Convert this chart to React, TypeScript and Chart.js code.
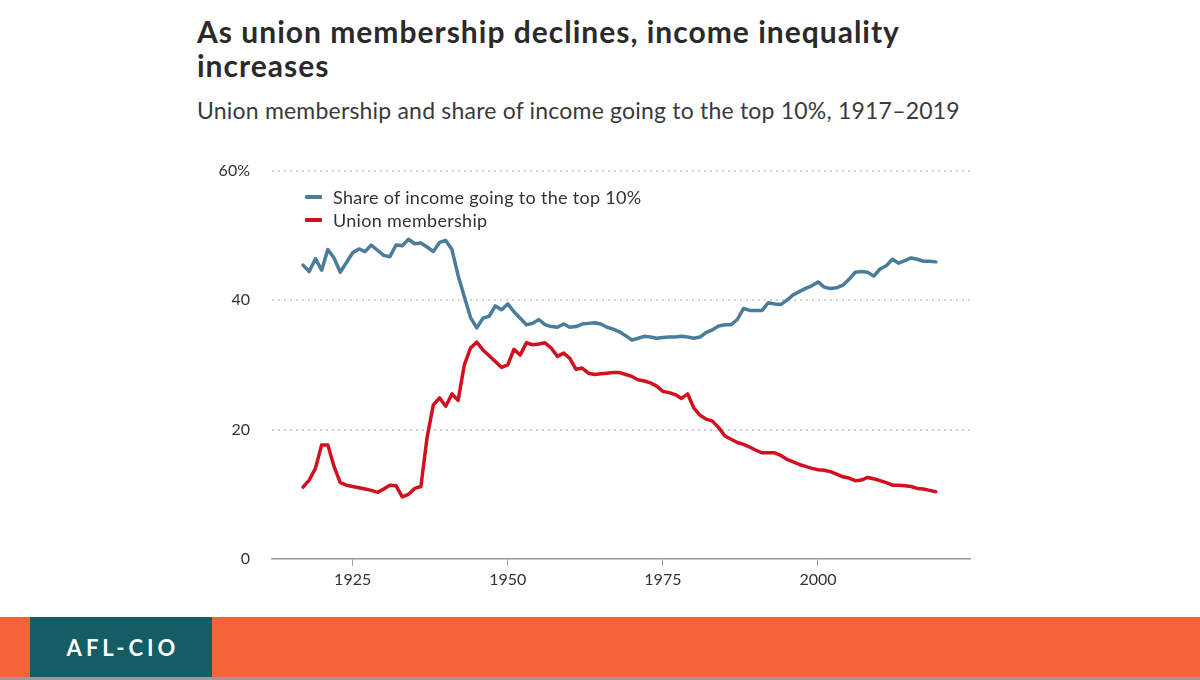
import { useEffect, useRef } from "react";
import { Chart, registerables } from "chart.js";

Chart.register(...registerables);

const FIRST_YEAR = 1917;

const incomeShareTop10 = [
  45.4, 44.4, 46.4, 44.6, 47.8, 46.5, 44.3, 45.8, 47.3, 47.9,
  47.5, 48.5, 47.7, 46.9, 46.7, 48.5, 48.4, 49.4, 48.7, 48.8,
  48.2, 47.5, 48.9, 49.2, 47.8, 43.8, 40.5, 37.3, 35.7, 37.2,
  37.5, 39.1, 38.5, 39.4, 38.2, 37.2, 36.2, 36.4, 37.0, 36.2,
  35.9, 35.8, 36.3, 35.8, 35.9, 36.3, 36.4, 36.5, 36.3, 35.8,
  35.5, 35.1, 34.5, 33.8, 34.1, 34.4, 34.3, 34.1, 34.2, 34.3,
  34.3, 34.4, 34.3, 34.1, 34.3, 35.0, 35.4, 36.0, 36.2, 36.2,
  37.0, 38.7, 38.4, 38.4, 38.4, 39.6, 39.4, 39.3, 40.0, 40.8,
  41.3, 41.8, 42.2, 42.8, 42.0, 41.8, 41.9, 42.3, 43.2, 44.3,
  44.4, 44.3, 43.7, 44.8, 45.3, 46.3, 45.7, 46.1, 46.5, 46.3,
  46.0, 46.0, 45.9,
];

const unionMembership = [
  11.1, 12.2, 14.0, 17.6, 17.6, 14.3, 11.8, 11.4, 11.2, 11.0,
  10.8, 10.6, 10.3, 10.8, 11.4, 11.3, 9.6, 10.0, 10.9, 11.2,
  18.8, 23.8, 24.9, 23.6, 25.5, 24.5, 30.0, 32.6, 33.5, 32.3,
  31.4, 30.5, 29.6, 30.0, 32.4, 31.5, 33.4, 33.1, 33.2, 33.4,
  32.6, 31.3, 31.8, 31.0, 29.3, 29.5, 28.7, 28.5, 28.6, 28.7,
  28.8, 28.8, 28.5, 28.2, 27.7, 27.5, 27.2, 26.7, 25.9, 25.7,
  25.4, 24.8, 25.5, 23.3, 22.2, 21.6, 21.3, 20.3, 19.0, 18.5,
  18.0, 17.7, 17.3, 16.8, 16.4, 16.4, 16.4, 16.0, 15.4, 15.0,
  14.6, 14.3, 14.0, 13.8, 13.7, 13.5, 13.1, 12.7, 12.5, 12.1,
  12.2, 12.6, 12.4, 12.1, 11.8, 11.4, 11.4, 11.3, 11.2, 10.9,
  10.8, 10.6, 10.4,
];

const years = incomeShareTop10.map((_, i) => FIRST_YEAR + i);

const xTicks = [1925, 1950, 1975, 2000];
const yTicks = [0, 20, 40, 60];

const seriesLabels = ["Share of income going to the top 10%", "Union membership"];
const seriesColors = ["#4a7d99", "#d2111f"];

const FONT = "Lato, 'Open Sans', sans-serif";

export default function App() {
  const canvasRef = useRef<HTMLCanvasElement | null>(null);

  useEffect(() => {
    document.body.style.margin = "0";
    const canvas = canvasRef.current;
    if (!canvas) return;
    const chart = new Chart(canvas, {
      type: "line",
      data: {
        datasets: [
          {
            label: seriesLabels[0],
            data: years.map((y, i) => ({ x: y, y: incomeShareTop10[i] })),
            borderColor: seriesColors[0],
            borderWidth: 3.5,
            pointRadius: 0,
            tension: 0,
            borderJoinStyle: "round",
            borderCapStyle: "round",
          },
          {
            label: seriesLabels[1],
            data: years.map((y, i) => ({ x: y, y: unionMembership[i] })),
            borderColor: seriesColors[1],
            borderWidth: 3.5,
            pointRadius: 0,
            tension: 0,
            borderJoinStyle: "round",
            borderCapStyle: "round",
          },
        ],
      },
      options: {
        animation: false,
        responsive: false,
        layout: { padding: { top: 10, right: 20, left: 0, bottom: 0 } },
        plugins: {
          legend: { display: false },
          tooltip: { enabled: false },
        },
        scales: {
          x: {
            type: "linear",
            min: 1912,
            max: 2024.5,
            afterBuildTicks: (scale: any) => {
              scale.ticks = xTicks.map((v) => ({ value: v }));
            },
            afterFit: (scale: any) => {
              scale.height = 41;
            },
            ticks: {
              autoSkip: false,
              maxRotation: 0,
              padding: 4,
              color: "#333",
              font: { family: FONT, size: 16 },
              callback: (v: any) => String(v),
            },
            grid: {
              drawOnChartArea: false,
              drawTicks: true,
              tickLength: 7,
              color: "#a0a0a0",
              lineWidth: 1,
            },
            border: { display: true, color: "#9a9a9a", width: 1.5 },
          },
          y: {
            type: "linear",
            min: 0,
            max: 60,
            afterBuildTicks: (scale: any) => {
              scale.ticks = yTicks.map((v) => ({ value: v }));
            },
            afterFit: (scale: any) => {
              scale.width = 72;
            },
            ticks: {
              padding: 22,
              color: "#333",
              font: { family: FONT, size: 16 },
              callback: (v: any) => (v === 60 ? "60%" : String(v)),
            },
            grid: {
              drawTicks: false,
              color: (ctx: any) => (ctx.tick && ctx.tick.value === 0 ? "rgba(0,0,0,0)" : "#d2d2d2"),
              lineWidth: 2,
            },
            border: { display: false, dash: [2, 4] },
          },
        },
      },
    });
    return () => chart.destroy();
  }, []);

  return (
    <div
      style={{
        position: "absolute",
        left: 0,
        top: 0,
        width: 1200,
        height: 680,
        background: "#fff",
        overflow: "hidden",
        fontFamily: FONT,
      }}
    >
      <div
        style={{
          position: "absolute",
          left: 197,
          top: 14,
          fontSize: 30,
          fontWeight: 700,
          lineHeight: "34px",
          letterSpacing: 1,
          color: "#2a2a2a",
          width: 900,
          whiteSpace: "nowrap",
        }}
      >
        As union membership declines, income inequality
        <br />
        increases
      </div>
      <div
        style={{
          position: "absolute",
          left: 197,
          top: 97,
          fontSize: 23,
          lineHeight: "27.6px",
          letterSpacing: 0.2,
          color: "#3a3a3a",
          whiteSpace: "nowrap",
        }}
      >
        Union membership and share of income going to the top 10%, 1917–2019
      </div>
      <canvas
        ref={canvasRef}
        width={790}
        height={461}
        style={{ position: "absolute", left: 200, top: 139, width: 790, height: 461, display: "block" }}
      />
      {seriesLabels.map((label, i) => (
        <div
          key={label}
          style={{
            position: "absolute",
            left: 305,
            top: 186 + i * 23,
            height: 22,
            display: "flex",
            alignItems: "center",
            fontSize: 18,
            letterSpacing: 0.3,
            color: "#333",
            whiteSpace: "nowrap",
          }}
        >
          <span
            style={{
              display: "inline-block",
              width: 17,
              height: 4,
              background: seriesColors[i],
              marginRight: 11,
              borderRadius: 1,
            }}
          />
          {label}
        </div>
      ))}
      <div
        style={{
          position: "absolute",
          left: 0,
          top: 617,
          width: 1200,
          height: 60,
          background: "#f4633a",
        }}
      />
      <div
        style={{
          position: "absolute",
          left: 0,
          top: 677,
          width: 1200,
          height: 3,
          background: "#9a9a9a",
        }}
      />
      <div
        style={{
          position: "absolute",
          left: 30,
          top: 617,
          width: 182,
          height: 60,
          background: "#135d65",
          display: "flex",
          alignItems: "center",
          justifyContent: "center",
          color: "#fff",
          fontSize: 22,
          fontWeight: 700,
          letterSpacing: 4,
          paddingLeft: 4,
          boxSizing: "border-box",
        }}
      >
        AFL-CIO
      </div>
    </div>
  );
}
